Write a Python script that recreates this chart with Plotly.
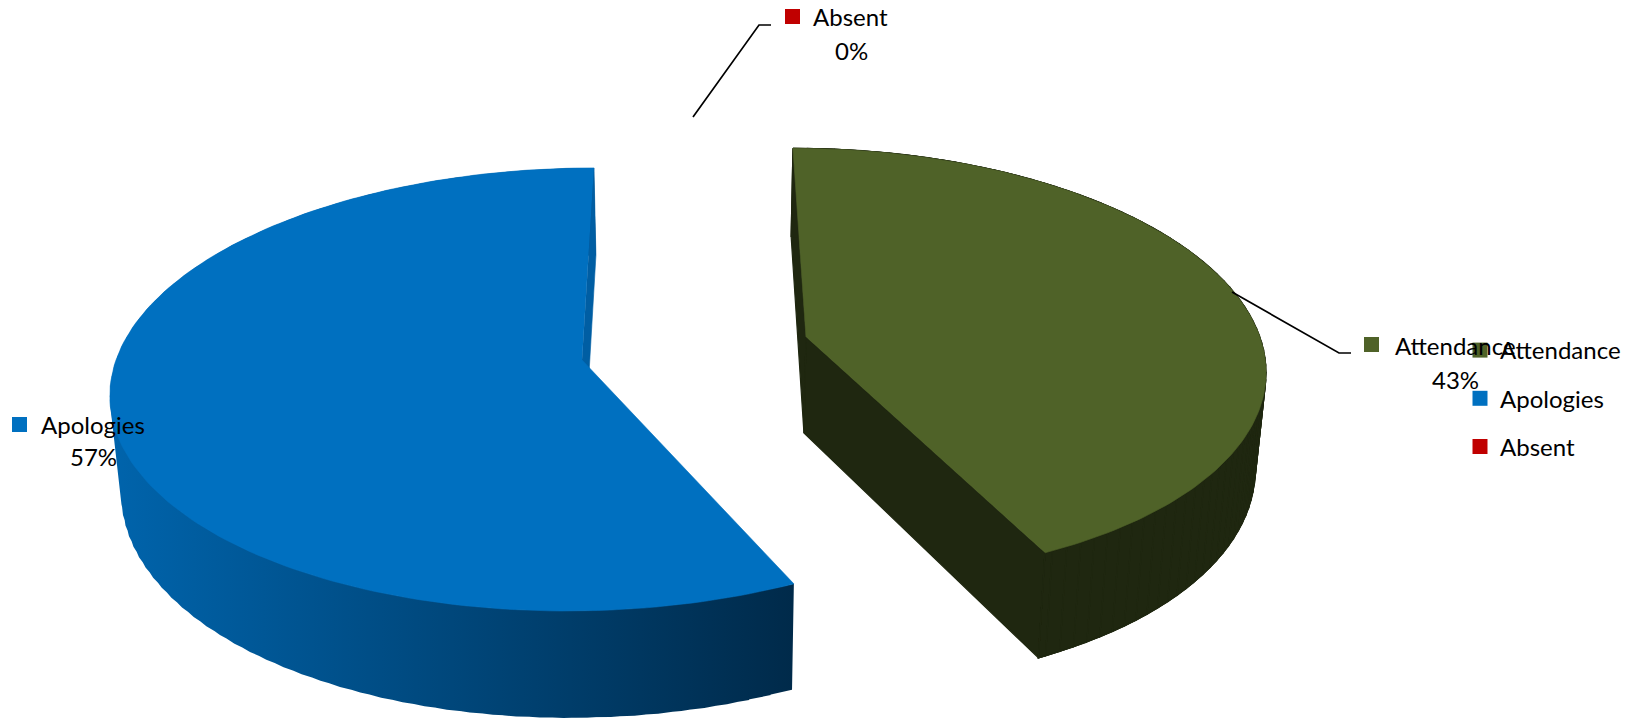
import numpy as np
import plotly.graph_objects as go

categories = ["Attendance", "Apologies", "Absent"]
percent_values = [43, 57, 0]
colors = ["#4F6228", "#0070C0", "#C00000"]

W, H = 1626, 720
FONT = "Lato"
FS = 24

# Perspective view of each exploded slice (pixels on the page)
view = {
    "Attendance": dict(cx=806, cy=337, a=454, b=212, k=0.123, p=143.5, q=222),
    "Apologies": dict(cx=582, cy=360, a=466, b=217.6, k=0.133, p=-101, q=7),
}
VANISH_X, SHRINK, DEPTH, DEPTH_PERSP = 697, 0.019, 96, 72


def top_pt(v, th):
    c, s0 = np.cos(th), np.sin(th)
    s = 1 / (1 + v["k"] * c)
    d = s - 1
    return v["cx"] + v["a"] * s0 * s + v["p"] * d + v["q"] * d * d, v["cy"] - v["b"] * c * s, s


def bottom_of(x, y, s):
    return x - SHRINK * (x - VANISH_X), y + DEPTH + DEPTH_PERSP * (s - 1)


def rim(v, t0, t1, n=160):
    th = np.linspace(t0, t1, n)
    return top_pt(v, th)


def quad(xs, ys):
    """Closed subpath with a fixed winding, so overlapping subpaths never cancel."""
    area = sum(xs[i] * ys[(i + 1) % len(xs)] - xs[(i + 1) % len(xs)] * ys[i] for i in range(len(xs)))
    if area < 0:
        xs, ys = xs[::-1], ys[::-1]
    return list(xs) + [xs[0], None], list(ys) + [ys[0], None]


def band(x, y, bx, by):
    """Outer wall as one path of overlapping quads, so its silhouette is tangent to both rims."""
    px, py = [], []
    last = len(x) - 1
    for i in range(0, last, 2):
        j = min(i + 6, last)
        qx, qy = quad([x[i], x[j], bx[j], bx[i]], [y[i], y[j], by[j], by[i]])
        px += qx
        py += qy
    return px, py


def poly(xs, ys, color=None, grad=None, width=0.6):
    kw = dict(x=list(xs), y=list(ys), mode="lines", fill="toself", hoverinfo="skip",
              showlegend=False, line=dict(width=width, color=color or "rgba(0,0,0,0)"))
    if grad:
        kw["fillgradient"] = dict(type="horizontal", colorscale=grad)
        kw["line"] = dict(width=0)
    else:
        kw["fillcolor"] = color
    return go.Scatter(**kw)


fig = go.Figure()
total = sum(percent_values)
angles = np.cumsum([0] + percent_values) / total * 2 * np.pi

# Apologies slice
v = view["Apologies"]
t0, t1 = angles[1], angles[2]
x, y, s = rim(v, t0, t1)
bx, by = bottom_of(x, y, s)
cbx, cby = bottom_of(v["cx"], v["cy"], 1)
px, py = band(x, y, bx, by)
fig.add_trace(poly(px, py, grad=[[0, "#0064AC"], [1, "#002A4A"]]))
fig.add_trace(poly([v["cx"], x[-1], bx[-1], cbx], [v["cy"], y[-1], by[-1], cby], "#005EA3"))
fig.add_trace(poly(np.r_[v["cx"], x], np.r_[v["cy"], y], colors[1]))

# Attendance slice
v = view["Attendance"]
t0, t1 = angles[0], angles[1]
x, y, s = rim(v, t0, t1)
bx, by = bottom_of(x, y, s)
cbx, cby = bottom_of(v["cx"], v["cy"], 1)
DARK = "#1F2710"
px, py = band(x, y, bx, by)
for e in (0, -1):
    qx, qy = quad([v["cx"], x[e], bx[e], cbx], [v["cy"], y[e], by[e], cby])
    px += qx
    py += qy
fig.add_trace(poly(px, py, DARK, width=1.2))
fig.add_trace(poly(np.r_[v["cx"], x], np.r_[v["cy"], y], colors[0]))

# Leader lines
leaders = {
    "Attendance": ([1232, 1339, 1351], [292, 353, 353]),
    "Absent": ([693, 759, 771], [117, 25, 25]),
}
for lx, ly in leaders.values():
    fig.add_trace(go.Scatter(x=lx, y=ly, mode="lines", hoverinfo="skip", showlegend=False,
                             line=dict(color="black", width=1.7)))

# Data labels: key square, name and percentage
key_xy = {"Attendance": (1371.5, 344.5), "Apologies": (19.5, 424.5), "Absent": (792.5, 16.5)}
name_xy = {"Attendance": (1455, 345), "Apologies": (93, 424), "Absent": (850.5, 16)}
pct_xy = {"Attendance": (1455, 379), "Apologies": (93, 456), "Absent": (851, 50)}
for name, val, col in zip(categories, percent_values, colors):
    fig.add_trace(go.Scatter(x=[key_xy[name][0]], y=[key_xy[name][1]], mode="markers", name=name,
                             legendgroup=name, hoverinfo="skip",
                             marker=dict(symbol="square", size=15, color=col, line=dict(width=0))))
    fig.add_annotation(x=name_xy[name][0], y=name_xy[name][1], text=name, showarrow=False,
                       xanchor="center", yanchor="middle")
    fig.add_annotation(x=pct_xy[name][0], y=pct_xy[name][1], text=f"{val}%", showarrow=False,
                       xanchor="center", yanchor="middle")

fig.update_layout(
    width=W, height=H, margin=dict(l=0, r=0, t=0, b=0, pad=0),
    paper_bgcolor="white", plot_bgcolor="white",
    font=dict(family=FONT, size=FS, color="black"),
    xaxis=dict(range=[0, W], visible=False, fixedrange=True),
    yaxis=dict(range=[H, 0], visible=False, fixedrange=True),
    showlegend=True,
    legend=dict(x=1460 / W, y=1 - 328 / H, xanchor="left", yanchor="top",
                traceorder="grouped", tracegroupgap=14, bgcolor="rgba(0,0,0,0)",
                font=dict(family=FONT, size=FS, color="black"), itemclick=False,
                itemdoubleclick=False),
)
fig.write_html("out.html", config={"displayModeBar": False},
               post_script="document.body.style.margin='0';")
